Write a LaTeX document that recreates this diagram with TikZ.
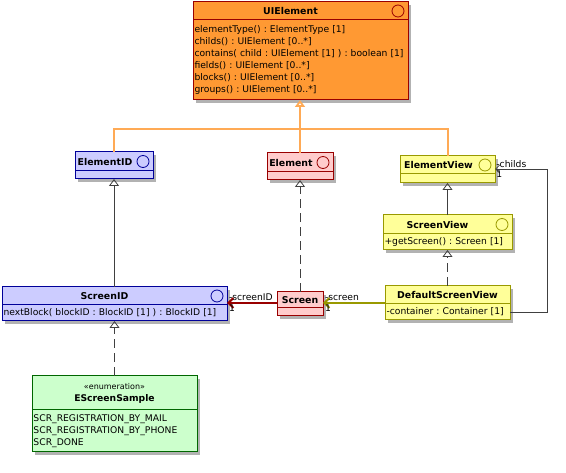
\documentclass[tikz,border=0pt]{standalone}
\usepackage{fontspec}
\setmainfont{DejaVu Sans}
\usetikzlibrary{arrows.meta,positioning,shadows}
\frenchspacing

\definecolor{uiorange}{RGB}{255,153,51}
\definecolor{uiline}{RGB}{153,0,0}
\definecolor{idblue}{RGB}{204,204,255}
\definecolor{idline}{RGB}{0,0,153}
\definecolor{elpink}{RGB}{255,204,204}
\definecolor{evyellow}{RGB}{255,255,153}
\definecolor{evline}{RGB}{153,153,0}
\definecolor{enumgreen}{RGB}{204,255,204}
\definecolor{enumline}{RGB}{0,102,0}
\definecolor{genorange}{RGB}{255,170,85}
\definecolor{linegray}{RGB}{64,64,64}

\begin{document}
\begin{tikzpicture}[x=1pt, y=-1pt, font=\fontsize{9.2}{12}\selectfont,
    cls/.style={draw, line width=1pt, inner sep=1pt, outer sep=0pt, anchor=north west,
      drop shadow={shadow xshift=3pt, shadow yshift=-3pt, fill=black!30, opacity=1}},
    hd/.style={cls, font=\fontsize{9.4}{12}\selectfont\bfseries, minimum height=#1},
    bd/.style={cls, align=left, inner xsep=1.5pt, minimum height=#1},
    icon/.style={path picture={\draw[#1, line width=0.8pt]
      ([xshift=-10pt]path picture bounding box.east) circle (6pt);}},
    lbl/.style={inner sep=1pt, text=black},
    gen/.style={draw=linegray, line width=0.8pt, -{Triangle[open, length=7pt, width=10pt]}},
    real/.style={gen, dash pattern=on 9pt off 5pt},
    orangegen/.style={draw=genorange, line width=2pt},
    assoc/.style={line width=2pt, -{Straight Barb[length=5pt, width=10pt]}}]
  \useasboundingbox (0,0) rectangle (566,473);

  % classes
  \node[hd=18, icon=uiline, fill=uiorange, draw=uiline, minimum width=215] (uie) at (193,2) {UIElement\hspace*{20pt}};
  \node[bd=80, fill=uiorange, draw=uiline, text width=212, below=0pt of uie] (uie-b)
    {elementType() : ElementType [1]\\childs() : UIElement [0..*]\\contains( child : UIElement [1] ) : boolean [1]\\fields() : UIElement [0..*]\\blocks() : UIElement [0..*]\\groups() : UIElement [0..*]};

  \node[hd=19, icon=idline, fill=idblue, draw=idline, minimum width=78] (eid) at (75,152) {ElementID\hspace*{18pt}};
  \node[bd=8, fill=idblue, draw=idline, minimum width=78, below=0pt of eid] (eid-b) {};

  \node[hd=19, icon=uiline, fill=elpink, draw=uiline, minimum width=66] (el) at (267,153) {Element\hspace*{18pt}};
  \node[bd=8, fill=elpink, draw=uiline, minimum width=66, below=0pt of el] (el-b) {};

  \node[hd=18, icon=evline, fill=evyellow, draw=evline, minimum width=95] (ev) at (400,156) {ElementView\hspace*{18pt}};
  \node[bd=9, fill=evyellow, draw=evline, minimum width=95, below=0pt of ev] (ev-b) {};

  \node[hd=19, icon=evline, fill=evyellow, draw=evline, minimum width=129] (sv) at (383,215) {ScreenView\hspace*{20pt}};
  \node[bd=16, fill=evyellow, draw=evline, text width=126, below=0pt of sv] (sv-b) {+getScreen() : Screen [1]};

  \node[hd=18, fill=evyellow, draw=evline, minimum width=125] (dsv) at (385,286) {DefaultScreenView};
  \node[bd=16, fill=evyellow, draw=evline, text width=122, below=0pt of dsv] (dsv-b) {-container : Container [1]};

  \node[hd=18, icon=idline, fill=idblue, draw=idline, minimum width=225] (sid) at (2,287) {ScreenID\hspace*{20pt}};
  \node[bd=16, fill=idblue, draw=idline, text width=222, below=0pt of sid] (sid-b) {nextBlock( blockID : BlockID [1] ) : BlockID [1]};

  \node[hd=16, fill=elpink, draw=uiline, minimum width=46] (scr) at (277,292) {Screen};
  \node[bd=8, fill=elpink, draw=uiline, minimum width=46, below=0pt of scr] (scr-b) {};

  \node[cls, fill=enumgreen, draw=enumline, minimum width=165, minimum height=34, align=center] (ess) at (32,376)
    {{\fontsize{8}{13}\selectfont «enumeration»}\\\textbf{EScreenSample}};
  \node[bd=42, fill=enumgreen, draw=enumline, text width=162, below=0pt of ess] (ess-b)
    {SCR\_REGISTRATION\_BY\_MAIL\\SCR\_REGISTRATION\_BY\_PHONE\\SCR\_DONE};

  % generalizations
  \coordinate (genjoin) at (el.north |- 0,129);
  \draw[orangegen] (eid.north) |- (genjoin) -| (ev.north);
  \draw[orangegen] (el.north) -- (genjoin);
  \draw[orangegen, -{Triangle[open, length=7pt, width=10pt]}] (genjoin) -- (genjoin |- uie-b.south);
  \draw[gen] (eid-b.south |- sid.north) -- (eid-b.south);
  \draw[real] (scr.north) -- (el-b.south);
  \draw[gen] (sv.north) -- (ev-b.south);
  \draw[real] (dsv.north) -- (sv-b.south);
  \draw[real] (sid-b.south |- ess.north) -- (sid-b.south);

  % associations
  \draw[assoc, uiline] ([yshift=-3pt]scr.west) -- ([yshift=-3pt]scr.west -| sid.east)
    node[lbl, anchor=south west] (sid-r) {-screenID}
    node[lbl, anchor=north west] (sid-m) {1};
  \draw[assoc, evline] ([yshift=-3pt]scr.west -| dsv.west) -- ([yshift=-3pt]scr.east)
    node[lbl, anchor=south west] (scr-r) {-screen}
    node[lbl, anchor=north west] (scr-m) {1};
  \coordinate (selfup) at (547,169);
  \draw[linegray, line width=0.8pt, -{Straight Barb[length=4pt, width=8pt]}] (dsv-b.east) -| (selfup) -- (selfup -| ev.east)
    node[lbl, anchor=south west] (ev-r) {-childs}
    node[lbl, anchor=north west] (ev-m) {1};
\end{tikzpicture}
\end{document}
